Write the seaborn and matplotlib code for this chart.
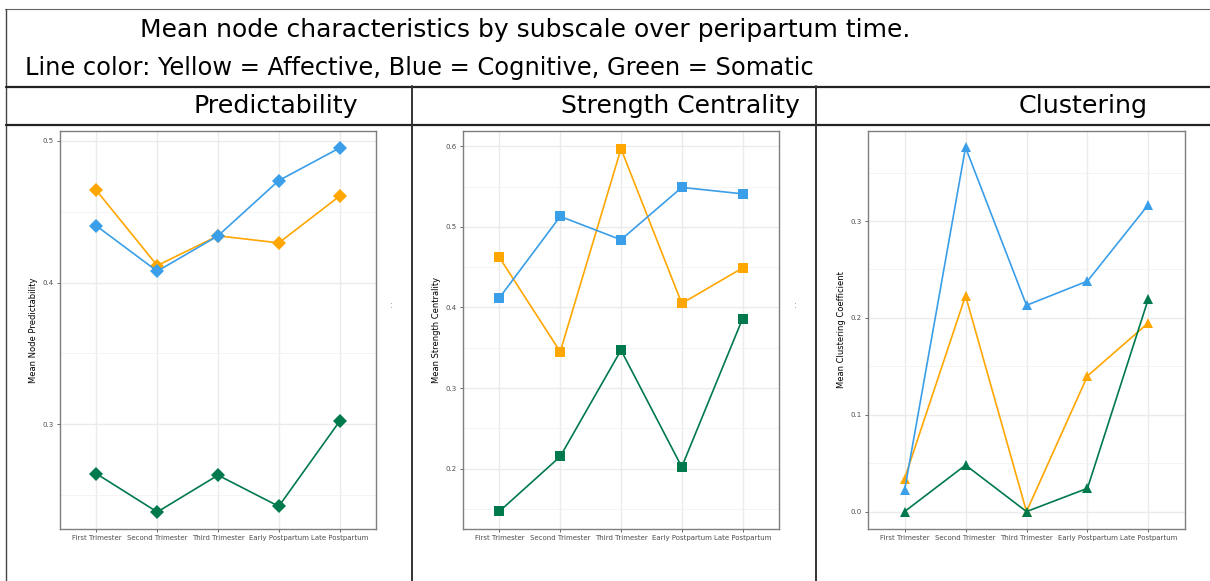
import numpy as np
import pandas as pd
import matplotlib
matplotlib.use("Agg")
import matplotlib.pyplot as plt
from matplotlib.lines import Line2D
from matplotlib.ticker import MultipleLocator
import seaborn as sns

# time points and subscales
times = ["First Trimester", "Second Trimester", "Third Trimester", "Early Postpartum", "Late Postpartum"]
subscales = ["Affective", "Cognitive", "Somatic"]

# values
pred_affective = [0.465, 0.412, 0.433, 0.428, 0.461]
pred_cognitive = [0.440, 0.408, 0.433, 0.472, 0.495]
pred_somatic = [0.265, 0.238, 0.264, 0.242, 0.302]

strength_affective = [0.462, 0.345, 0.597, 0.405, 0.449]
strength_cognitive = [0.412, 0.513, 0.484, 0.549, 0.541]
strength_somatic = [0.147, 0.215, 0.347, 0.202, 0.386]

clust_affective = [0.034, 0.223, 0.000, 0.140, 0.195]
clust_cognitive = [0.022, 0.376, 0.213, 0.238, 0.317]
clust_somatic = [0.000, 0.048, 0.000, 0.024, 0.220]

colors = {"Affective": "#FFA600", "Cognitive": "#3A9EE8", "Somatic": "#00794C"}

sns.set_theme(style="white")
plt.rcParams['font.family'] = ['DejaVu Sans']

W, H = 1210, 581
fig = plt.figure(figsize=(W / 100, H / 100), dpi=100)


def long_df(a, c, s):
    rows = []
    for name, vals in zip(subscales, [a, c, s]):
        for t, v in zip(times, vals):
            rows.append({"time": t, "subscale": name, "value": v})
    return pd.DataFrame(rows)


def px_axes(left, right, top, bottom):
    return fig.add_axes([left / W, 1 - bottom / H, (right - left) / W, (bottom - top) / H])


panels = [
    (long_df(pred_affective, pred_cognitive, pred_somatic), "D", 6.8, (0.226, 0.507), 0.1,
     "Mean Node Predictability", (60, 376)),
    (long_df(strength_affective, strength_cognitive, strength_somatic), "s", 6.6, (0.125, 0.619), 0.1,
     "Mean Strength Centrality", (463, 779)),
    (long_df(clust_affective, clust_cognitive, clust_somatic), "^", 7.8, (-0.018, 0.393), 0.1,
     "Mean Clustering Coefficient", (868, 1185)),
]

for df, mk, ms, ylim, step, ylab, (l, r) in panels:
    ax = px_axes(l, r, 131, 529)
    ax.set_axisbelow(True)
    ax.yaxis.set_major_locator(MultipleLocator(step))
    ax.yaxis.set_minor_locator(MultipleLocator(step / 2))
    ax.grid(True, which="major", color="#EBEBEB", linewidth=1.0)
    ax.grid(True, which="minor", axis="y", color="#F2F2F2", linewidth=0.6)
    sns.lineplot(data=df, x="time", y="value", hue="subscale", palette=colors,
                 marker=mk, markersize=ms, markeredgewidth=0, linewidth=1.2,
                 legend=False, ax=ax, sort=False)
    ax.set_xlim(-0.6, 4.6)
    ax.set_ylim(*ylim)
    ax.set_xlabel("")
    ax.set_ylabel(ylab, fontsize=6, color="black", labelpad=3)
    ax.tick_params(axis="both", which="major", labelsize=5, colors="#4D4D4D",
                   length=2.5, width=0.6, pad=2, left=True, bottom=True)
    ax.tick_params(axis="y", which="minor", length=0)
    ax.yaxis.set_major_formatter(matplotlib.ticker.FormatStrFormatter("%.1f"))
    for sp in ax.spines.values():
        sp.set_color("#7F7F7F")
        sp.set_linewidth(1.0)

# table frame around the panels
def hline(y, x0, x1, lw, c="#222222"):
    fig.add_artist(Line2D([x0 / W, x1 / W], [1 - y / H, 1 - y / H], color=c, linewidth=lw))


def vline(x, y0, y1, lw, c="#222222"):
    fig.add_artist(Line2D([x / W, x / W], [1 - y0 / H, 1 - y1 / H], color=c, linewidth=lw))


hline(9, 5, W, 0.8, "#666666")
vline(6, 9, H, 1.0, "#444444")
hline(86.5, 6, W, 1.6)
hline(125, 6, W, 1.6)
vline(412, 86, H, 1.4, "#333333")
vline(816, 86, H, 1.4, "#333333")

hdr = ['Liberation Sans Narrow', 'DejaVu Sans']
fig.text(140 / W, 1 - 30 / H, "Mean node characteristics by subscale over peripartum time.",
         fontsize=18, family=hdr, va="center", ha="left", color="black")
fig.text(25 / W, 1 - 68 / H, "Line color: Yellow = Affective, Blue = Cognitive, Green = Somatic",
         fontsize=17.4, family=hdr, va="center", ha="left", color="black")
fig.text(193 / W, 1 - 106 / H, "Predictability", fontsize=18.3, family=hdr,
         va="center", ha="left", color="black")
fig.text(561 / W, 1 - 106 / H, "Strength Centrality", fontsize=18, family=hdr,
         va="center", ha="left", color="black")
fig.text(1019 / W, 1 - 106 / H, "Clustering", fontsize=18.3, family=hdr,
         va="center", ha="left", color="black")

fig.text(391 / W, 1 - 306 / H, ":", fontsize=6, color="#777777", ha="center", va="center")
fig.text(795 / W, 1 - 306 / H, ":", fontsize=6, color="#777777", ha="center", va="center")

fig.savefig("out.png", dpi=100, facecolor="white")
